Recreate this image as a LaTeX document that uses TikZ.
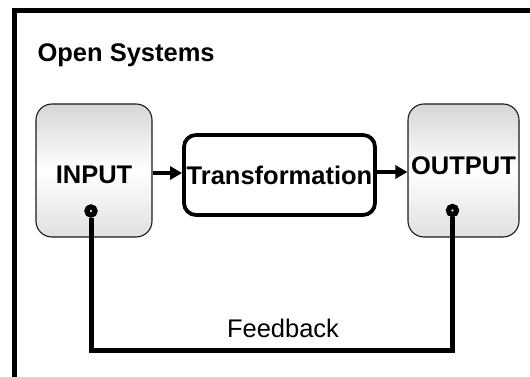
\documentclass[tikz,border=0pt]{standalone}
\usepackage{fontspec}
\setmainfont{Liberation Sans}
\usetikzlibrary{arrows.meta,calc}
\begin{document}
\begin{tikzpicture}[x=1pt,y=-1pt,
  every node/.style={font=\fontsize{25.5}{30}\selectfont},
  iobox/.style={draw=black!90, line width=1.1pt, rounded corners=16pt, inner sep=0pt,
    minimum width=#1, minimum height=133pt, top color=black!16, bottom color=black!12, middle color=white,
    font=\fontsize{25.5}{30}\selectfont\bfseries},
  tbox/.style={draw=black, line width=3.8pt, rounded corners=12pt, inner sep=0pt,
    minimum width=191pt, minimum height=80pt, font=\fontsize{25.5}{30}\selectfont\bfseries},
  flow/.style={line width=4.5pt, -{Triangle[length=12pt,width=13pt]}},
  fbline/.style={line width=5pt},
  port/.style={circle, draw=black, line width=5pt, fill=white!90!black, inner sep=0pt, minimum size=8pt}
]
\useasboundingbox (0,0) rectangle (530,377);
\draw[line width=5pt] (14,377) -- (14,11) -- (530,11);
\node[anchor=base west, font=\fontsize{25.5}{30}\selectfont\bfseries] (title) at (34,62) {Open Systems};
\node[iobox=116pt, text height=25pt, text depth=0pt] (input) at (94,170.5) {INPUT};
\node[iobox=111pt, text height=18pt, text depth=9pt] (output) at (463.5,170.5) {OUTPUT};
\node[tbox] (trans) at (279.5,175) {Transformation};
\draw[flow] (input.east |- 0,173) coordinate (a1) -- (trans.west |- a1);
\draw[flow] (trans.east |- 0,172) coordinate (a2) -- (output.west |- a2);
\node[port] (fin) at (91,211) {};
\node[port] (fout) at (452.5,210.5) {};
\coordinate (fbot) at (0,350);
\draw[fbline] (fin.south) -- (fin.south |- fbot) -- (fout.south |- fbot) -- (fout.south);
\node[port] at (fin) {};
\node[port] at (fout) {};
\node (fb) at (283,328) {Feedback};
\end{tikzpicture}
\end{document}
